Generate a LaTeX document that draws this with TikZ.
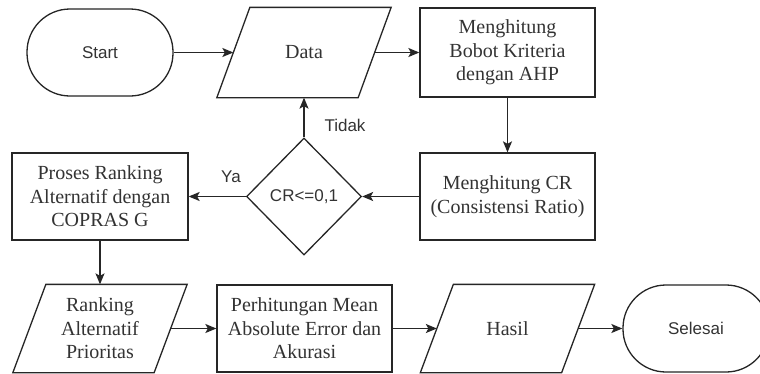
\documentclass[tikz,border=0pt]{standalone}
\usepackage{fontspec}
\setmainfont{Liberation Serif}
\setsansfont{Liberation Sans}
\usetikzlibrary{shapes.geometric,arrows.meta}
\definecolor{ln}{HTML}{262626}
\definecolor{tx}{HTML}{333333}
\newcommand{\ioshape}[1]{\draw[ln,line width=1.3pt] ([xshift=16.5pt]#1.north west) -- ([xshift=16.5pt]#1.north east) -- ([xshift=-16.5pt]#1.south east) -- ([xshift=-16.5pt]#1.south west) -- cycle;}
\begin{document}
\begin{tikzpicture}[x=1pt,y=-1pt,line width=1.3pt,
  proc/.style={draw=ln, rectangle, minimum width=175pt, minimum height=87pt, inner sep=0pt, align=center, font=\fontsize{20}{23.5}\selectfont, text=tx},
  term/.style={draw=ln, rectangle, rounded corners=43pt, minimum width=146pt, minimum height=87pt, inner sep=0pt, font=\fontsize{17}{20}\selectfont\sffamily, text=tx},
  iobox/.style={rectangle, minimum width=140pt, minimum height=87pt, inner sep=0pt, align=center, font=\fontsize{20}{23.5}\selectfont, text=tx},
  dec/.style={diamond, draw=ln, minimum width=115pt, minimum height=117pt, inner sep=0pt, font=\fontsize{17}{20}\selectfont\sffamily, text=tx},
  lbl/.style={font=\fontsize{17}{20}\selectfont\sffamily, text=tx, inner sep=0pt},
  flow/.style={draw=ln, line width=1.3pt, -{Stealth[length=11pt,width=9pt,inset=2.5pt]}}]
\useasboundingbox[fill=white] (0,0) rectangle (760,373);

\node[term] (start) at (100,52.5) {Start};
\node[iobox, minimum height=89pt] (data) at (304,52.5) {Data};
\ioshape{data}
\node[proc, minimum height=89pt] (bobot) at (507.5,52.5) {Menghitung\\Bobot Kriteria\\dengan AHP};
\node[proc] (cr) at (507.5,196.5) {Menghitung CR\\(Consistensi Ratio)};
\node[dec] (dec) at (304,196.5) {CR<=0,1};
\node[proc, minimum width=176pt] (proses) at (100,196.5) {Proses Ranking\\Alternatif dengan\\COPRAS G};
\node[iobox] (rank) at (100,328.5) {Ranking\\Alternatif\\Prioritas};
\ioshape{rank}
\node[proc] (perh) at (304.5,328.5) {Perhitungan Mean\\Absolute Error dan\\Akurasi};
\node[iobox] (hasil) at (507.5,328.5) {Hasil};
\ioshape{hasil}
\node[term] (selesai) at (696,328.5) {Selesai};

\draw[flow] (start.east) -- (data.west);
\draw[flow] (data.east) -- (bobot.west);
\draw[flow] (bobot.south) -- (cr.north);
\draw[flow] (cr.west) -- (dec.east);
\draw[flow] (dec.north) -- (data.south);
\draw[flow] (dec.west) -- (proses.east);
\draw[flow] (proses.south) -- (rank.north);
\draw[flow] (rank.east) -- (perh.west);
\draw[flow] (perh.east) -- (hasil.west);
\draw[flow] (hasil.east) -- (selesai.west);

\node[lbl] (tidak) at (345,125) {Tidak};
\node[lbl] (ya) at (231,177) {Ya};
\end{tikzpicture}
\end{document}
